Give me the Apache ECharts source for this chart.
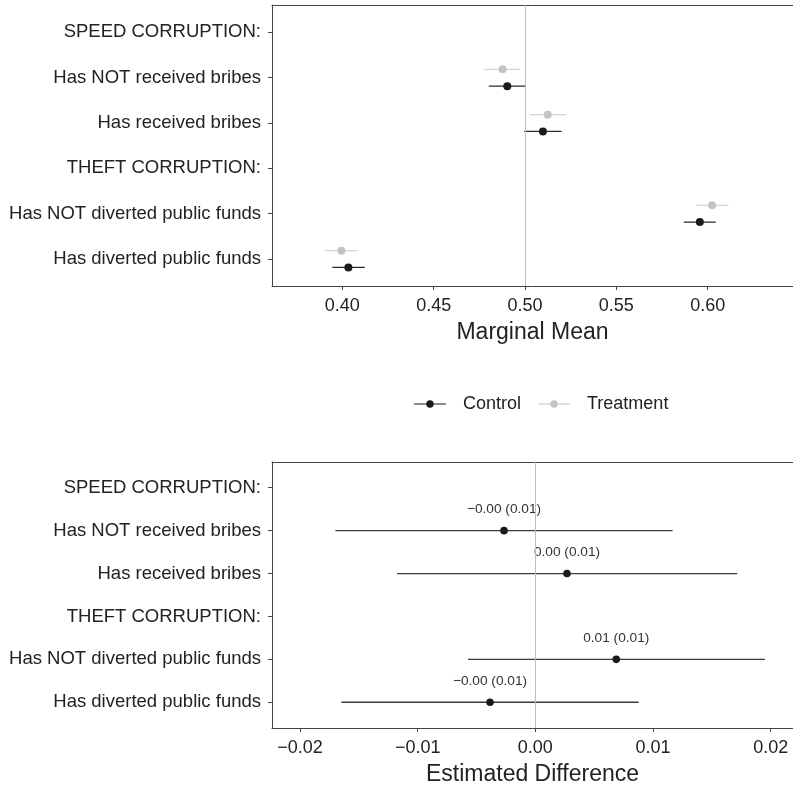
<!DOCTYPE html>
<html>
<head>
<meta charset="utf-8">
<script src="https://cdn.jsdelivr.net/npm/echarts@6/dist/echarts.min.js"></script>
<style>
html,body{margin:0;padding:0;background:#fff;overflow:hidden;}
#chart{width:793px;height:787px;}
</style>
</head>
<body>
<div id="chart"></div>
<script>
// ---- data ----
const categories = ['SPEED CORRUPTION:', 'Has NOT received bribes', 'Has received bribes', 'THEFT CORRUPTION:', 'Has NOT diverted public funds', 'Has diverted public funds'];
const estRows = [2, 3, 5, 6];
const controlMean = [0.4903, 0.5098, 0.5957, 0.4033];
const controlLo = [0.4802, 0.4996, 0.5869, 0.3945];
const controlHi = [0.5003, 0.5200, 0.6044, 0.4123];
const treatMean = [0.4877, 0.5124, 0.6024, 0.3995];
const treatLo = [0.4779, 0.5025, 0.5937, 0.3905];
const treatHi = [0.4976, 0.5225, 0.6114, 0.4082];
const diffEst = [-0.00266, 0.00269, 0.00688, -0.00385];
const diffLo = [-0.01699, -0.01175, -0.00572, -0.01648];
const diffHi = [0.01167, 0.01716, 0.01952, 0.00878];
const diffLabels = ['\u22120.00 (0.01)', '0.00 (0.01)', '0.01 (0.01)', '\u22120.00 (0.01)'];
const topTicks = [0.40, 0.45, 0.50, 0.55, 0.60];
const bottomTicks = [-0.02, -0.01, 0.00, 0.01, 0.02];
const rowTicks = [1, 2, 3, 4, 5, 6];
const topRef = 0.50;
const bottomRef = 0.00;

// ---- helpers ----
const FONT = 'Liberation Sans, Arial, sans-serif';
function rows(lo, hi, est) {
  return estRows.map((r, i) => [lo[i], hi[i], est[i], r, i]);
}
function fmt(v) {
  const s = Math.abs(v).toFixed(2);
  return (v < -1e-9 ? '\u2212' : '') + s;
}
function makeRender(offset, pointColor, barColor, radius, withLabel) {
  return function (params, api) {
    const y = api.value(3) + offset;
    const p1 = api.coord([api.value(0), y]);
    const p2 = api.coord([api.value(1), y]);
    const pc = api.coord([api.value(2), y]);
    const children = [
      { type: 'line', shape: { x1: p1[0], y1: p1[1], x2: p2[0], y2: p2[1] }, style: { stroke: barColor, lineWidth: 1.3 } },
      { type: 'circle', shape: { cx: pc[0], cy: pc[1], r: radius }, style: { fill: pointColor } }
    ];
    if (withLabel) {
      children.push({ type: 'text', x: pc[0], y: pc[1] - 21,
        style: { text: diffLabels[api.value(4)], fill: '#333', font: '13.7px ' + FONT, align: 'center', verticalAlign: 'middle' } });
    }
    return { type: 'group', children: children };
  };
}
const legendIcon = 'path://M0,4.5H11.5V5.5H0Z M18.5,4.5H30V5.5H18.5Z M18.5,5A3.5,3.5 0 1 1 11.5,5A3.5,3.5 0 1 1 18.5,5Z';

function yAxis(gi) {
  return {
    gridIndex: gi, type: 'value', inverse: true, min: 0.4, max: 6.6,
    axisLine: { show: true, onZero: false, lineStyle: { color: '#444', width: 1 } },
    axisTick: { show: true, length: 4, customValues: rowTicks, lineStyle: { color: '#444' } },
    axisLabel: { customValues: rowTicks, margin: 11, color: '#222', fontSize: 18.5, fontFamily: FONT,
      formatter: v => categories[Math.round(v) - 1] },
    splitLine: { show: false }
  };
}
function xAxis(gi, min, max, ticks, name) {
  return {
    gridIndex: gi, type: 'value', min: min, max: max,
    name: name, nameLocation: 'middle', nameGap: 35,
    nameTextStyle: { color: '#222', fontSize: 23, fontFamily: FONT },
    axisLine: { show: true, onZero: false, lineStyle: { color: '#444', width: 1 } },
    axisTick: { show: true, length: 4, customValues: ticks, lineStyle: { color: '#444' } },
    axisLabel: { customValues: ticks, margin: 11, color: '#222', fontSize: 18, fontFamily: FONT, formatter: fmt },
    splitLine: { show: false }
  };
}
function topBorder(gi, min, max) {
  return {
    gridIndex: gi, type: 'value', position: 'top', min: min, max: max,
    axisLine: { show: true, onZero: false, lineStyle: { color: '#444', width: 1 } },
    axisTick: { show: false }, axisLabel: { show: false }, splitLine: { show: false }
  };
}
function refLine(value, xi, yi) {
  return {
    type: 'line', xAxisIndex: xi, yAxisIndex: yi, data: [], silent: true,
    markLine: { silent: true, symbol: 'none', label: { show: false },
      lineStyle: { color: '#bdbdbd', width: 1, type: 'solid' }, data: [{ xAxis: value }] }
  };
}

const topMin = 0.3615, topMax = 0.6467, botMin = -0.02238, botMax = 0.0219;
const chart = echarts.init(document.getElementById('chart'), null, { renderer: 'canvas' });
chart.setOption({
  animation: false,
  backgroundColor: '#fff',
  grid: [
    { left: 272, top: 5, right: 0, height: 281, show: false },
    { left: 272, top: 462, right: 0, height: 267, show: false }
  ],
  xAxis: [
    xAxis(0, topMin, topMax, topTicks, 'Marginal Mean'),
    xAxis(1, botMin, botMax, bottomTicks, 'Estimated Difference'),
    topBorder(0, topMin, topMax),
    topBorder(1, botMin, botMax)
  ],
  yAxis: [yAxis(0), yAxis(1)],
  legend: {
    left: 409, top: 390, itemWidth: 32, itemHeight: 7.5, itemGap: 17,
    textStyle: { color: '#222', fontSize: 18, fontFamily: FONT, padding: [0, 0, 0, 12] },
    data: [
      { name: 'Control', icon: legendIcon, itemStyle: { color: '#1a1a1a' } },
      { name: 'Treatment', icon: legendIcon, itemStyle: { color: '#c4c4c4' } }
    ]
  },
  series: [
    refLine(topRef, 0, 0),
    refLine(bottomRef, 1, 1),
    { name: 'Treatment', type: 'custom', xAxisIndex: 0, yAxisIndex: 0,
      renderItem: makeRender(-0.18, '#c4c4c4', '#d4d4d4', 4, false),
      encode: { x: [0, 1, 2], y: 3 }, data: rows(treatLo, treatHi, treatMean), itemStyle: { color: '#c4c4c4' } },
    { name: 'Control', type: 'custom', xAxisIndex: 0, yAxisIndex: 0,
      renderItem: makeRender(0.19, '#1a1a1a', '#2a2a2a', 4, false),
      encode: { x: [0, 1, 2], y: 3 }, data: rows(controlLo, controlHi, controlMean), itemStyle: { color: '#1a1a1a' } },
    { name: 'Difference', type: 'custom', xAxisIndex: 1, yAxisIndex: 1,
      renderItem: makeRender(0, '#1a1a1a', '#3a3a3a', 3.8, true),
      encode: { x: [0, 1, 2], y: 3 }, data: rows(diffLo, diffHi, diffEst), itemStyle: { color: '#1a1a1a' } }
  ]
});
</script>
</body>
</html>
